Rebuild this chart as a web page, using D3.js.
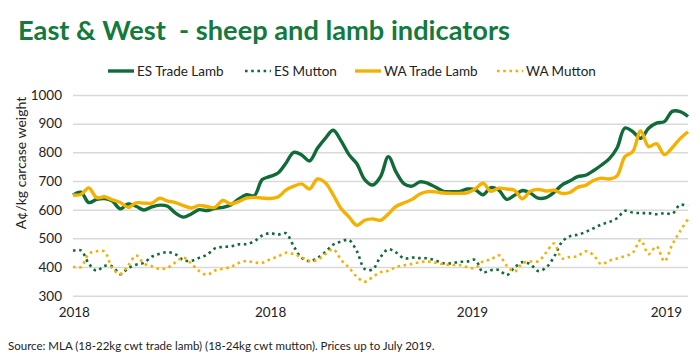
<!DOCTYPE html>
<html><head><meta charset="utf-8">
<script src="https://cdn.jsdelivr.net/npm/d3@7"></script>
<style>
body{margin:0;background:#fff;}
svg{display:block;font-family:Lato,"Open Sans",sans-serif;}
</style></head>
<body><div id="chart"></div>
<script>
const title = "East & West  - sheep and lamb indicators";
const yAxisTitle = "A¢/kg carcase weight";
const source = "Source: MLA (18-22kg cwt trade lamb) (18-24kg cwt mutton). Prices up to July 2019.";
const seriesNames = ["ES Trade Lamb","ES Mutton","WA Trade Lamb","WA Mutton"];
const yTicks = [300,400,500,600,700,800,900,1000];
const xTickIdx = [0.1,25,50.6,75.2];
const xTickLabels = ["2018","2018","2019","2019"];

const esTradeLamb = [651,661,625,636,639,630,603,620,612,599,610,616,612,588,574,585,600,597,605,608,616,637,652,649,705,716,728,762,800,791,770,814,849,877,840,792,760,705,686,715,785,730,690,682,697,692,678,664,663,663,672,670,652,677,668,636,650,667,658,640,642,660,686,700,715,720,736,755,777,815,885,872,849,884,902,907,943,942,925];
const esMutton = [457,458,412,387,404,402,375,396,408,415,436,446,452,444,424,422,432,443,465,470,472,479,480,490,510,518,513,518,472,432,420,432,452,478,489,494,455,393,392,435,462,450,430,433,431,430,423,413,413,418,419,425,382,389,390,372,398,417,410,386,398,435,487,507,513,522,535,548,557,570,596,590,588,588,584,588,586,617,612];
const waTradeLamb = [651,653,676,642,645,634,625,608,624,623,623,640,630,625,614,606,615,611,608,632,620,628,640,643,641,639,644,668,682,690,672,707,694,652,604,575,545,563,568,563,585,612,624,636,655,663,662,658,657,657,659,672,692,664,675,672,668,638,664,671,665,668,657,660,678,685,702,710,707,718,785,803,875,820,830,792,816,848,872];
const waMutton = [401,400,446,455,454,395,376,405,440,412,403,393,398,416,433,412,386,373,388,394,400,414,421,416,415,427,437,450,445,434,421,425,445,462,425,398,366,349,365,382,387,400,406,411,417,419,415,409,407,407,400,396,420,426,441,405,384,413,419,420,450,482,430,435,438,455,442,410,422,430,438,450,494,445,472,420,478,525,567];

const W=700,H=364;
const green="#0f6b38", orange="#f6b100", titleGreen="#137a3d";
const svg=d3.select("#chart").append("svg").attr("width",W).attr("height",H);

svg.append("text").attr("x",18).attr("y",40).attr("fill",titleGreen)
  .attr("font-size",27).attr("font-weight",700)
  .attr("textLength",492).attr("lengthAdjust","spacingAndGlyphs")
  .style("white-space","pre").text(title);

const x=d3.scaleLinear().domain([0,esTradeLamb.length-1]).range([73,688]);
const y=d3.scaleLinear().domain([300,1000]).range([295.7,95]);

const gy=svg.append("g").attr("transform","translate(73,0)")
  .call(d3.axisLeft(y).tickValues(yTicks).tickSize(-615).tickPadding(11).tickFormat(d3.format("d")));
gy.select(".domain").remove();
gy.selectAll("line").attr("stroke","#d9d9d9").attr("stroke-width",1.5);
gy.selectAll("text").attr("font-size",13.5).attr("fill","#222").attr("font-family","Lato,sans-serif");

const gx=svg.append("g").attr("transform","translate(0,295.7)")
  .call(d3.axisBottom(x).tickValues(xTickIdx).tickSize(0).tickPadding(12).tickFormat((d,i)=>xTickLabels[i]));
gx.select(".domain").remove();
gx.selectAll("text").attr("font-size",13.5).attr("fill","#222").attr("font-family","Lato,sans-serif");

svg.append("text").attr("transform","translate(26,163) rotate(-90)")
  .attr("text-anchor","middle").attr("font-size",14).attr("fill","#222").text(yAxisTitle);

const line=d3.line().x((d,i)=>x(i)).y(d=>y(d)).curve(d3.curveCatmullRom.alpha(0.5));
const series=[
  {data:esTradeLamb,color:green,dash:null},
  {data:esMutton,color:green,dash:"2.6 3.6"},
  {data:waTradeLamb,color:orange,dash:null},
  {data:waMutton,color:orange,dash:"2.6 3.6"}
];
series.forEach(s=>{
  svg.append("path").datum(s.data).attr("d",line).attr("fill","none")
    .attr("stroke",s.color).attr("stroke-width",s.dash?2.6:3.4)
    .attr("stroke-dasharray",s.dash).attr("stroke-linejoin","round");
});

// legend
const legX=[108,245,355,497];
const lg=svg.append("g");
series.forEach((s,i)=>{
  lg.append("line").attr("x1",legX[i]).attr("x2",legX[i]+26).attr("y1",71).attr("y2",71)
    .attr("stroke",s.color).attr("stroke-width",s.dash?2.6:3.4).attr("stroke-dasharray",s.dash);
  lg.append("text").attr("x",legX[i]+29).attr("y",76).attr("font-size",13.5).attr("fill","#222").text(seriesNames[i]);
});

svg.append("text").attr("x",8).attr("y",350).attr("font-size",11.5).attr("fill","#222").text(source);
</script></body></html>
